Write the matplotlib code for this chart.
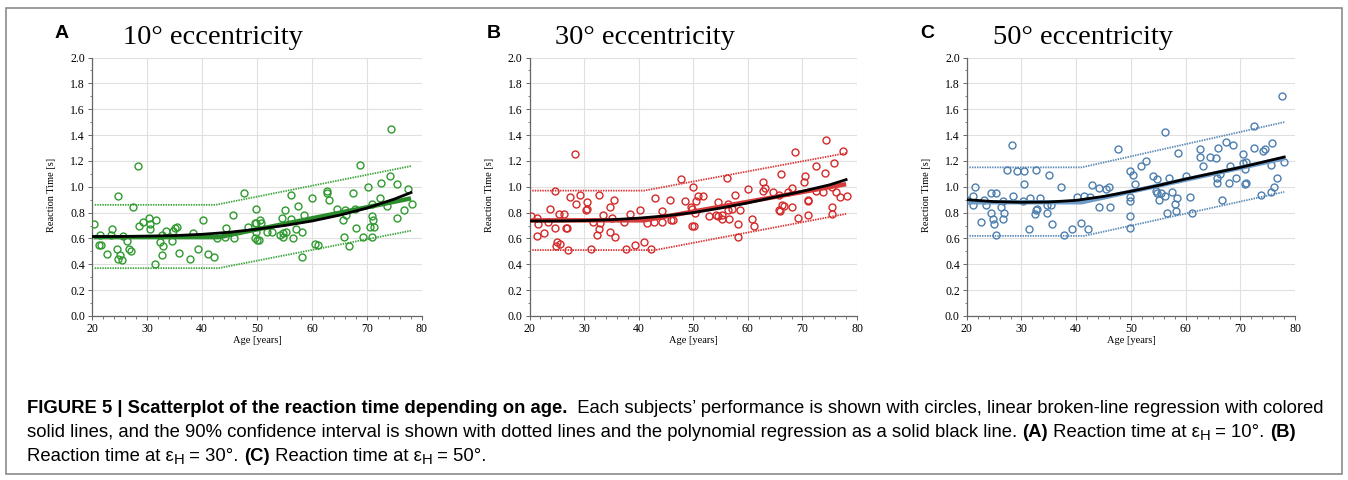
import numpy as np
import matplotlib
matplotlib.use('Agg')
import matplotlib.pyplot as plt
from matplotlib import font_manager
from matplotlib.patches import Rectangle
from matplotlib.ticker import MultipleLocator, FormatStrFormatter

# 数据
age_a = [20.3, 21.4, 21.3, 21.6, 22.7, 23.4, 23.7, 24.7, 24.6, 25.0, 24.8, 25.5, 25.6, 26.3, 26.8, 27.0,
         27.5, 28.3, 28.5, 29.2, 30.4, 30.5, 30.5, 31.6, 31.4, 32.4, 32.8, 32.9, 32.8, 33.4, 34.6, 34.7,
         35.0, 35.5, 35.8, 37.8, 38.3, 39.3, 40.1, 41.0, 42.2, 42.7, 44.2, 44.3, 45.6, 45.9, 47.6, 48.4,
         49.7, 49.7, 49.8, 49.8, 49.8, 50.0, 50.3, 50.5, 50.7, 51.8, 52.8, 54.1, 54.7, 54.7, 55.3, 54.5,
         55.1, 56.2, 56.2, 56.5, 57.0, 57.5, 58.1, 58.1, 58.5, 60.0, 60.6, 61.1, 62.7, 62.8, 63.1, 64.5,
         65.6, 65.8, 66.0, 66.2, 66.7, 67.5, 67.9, 68.0, 68.7, 69.2, 70.2, 70.5, 70.9, 70.9, 71.0, 70.9,
         71.2, 72.3, 72.5, 73.7, 74.2, 74.4, 75.5, 75.5, 76.7, 77.5, 78.1]
rt_a = [0.71, 0.63, 0.55, 0.55, 0.48, 0.63, 0.67, 0.93, 0.52, 0.47, 0.44, 0.43, 0.62, 0.58, 0.52, 0.50,
        0.84, 1.16, 0.70, 0.73, 0.76, 0.71, 0.67, 0.74, 0.40, 0.57, 0.47, 0.54, 0.63, 0.66, 0.58, 0.66,
        0.68, 0.69, 0.49, 0.44, 0.64, 0.52, 0.74, 0.48, 0.46, 0.60, 0.61, 0.68, 0.78, 0.60, 0.95, 0.69,
        0.72, 0.60, 0.83, 0.72, 0.65, 0.59, 0.59, 0.74, 0.72, 0.65, 0.65, 0.63, 0.64, 0.61, 0.65, 0.76,
        0.82, 0.94, 0.75, 0.60, 0.67, 0.85, 0.65, 0.46, 0.78, 0.91, 0.56, 0.55, 0.97, 0.95, 0.90, 0.83,
        0.74, 0.61, 0.82, 0.78, 0.54, 0.95, 0.83, 0.68, 1.17, 0.61, 1.00, 0.69, 0.87, 0.77, 0.74, 0.61,
        0.69, 0.91, 1.03, 0.85, 1.08, 1.45, 1.02, 0.76, 0.82, 0.98, 0.87]

age_b = [20.2, 21.3, 21.5, 21.3, 22.6, 23.7, 23.4, 24.7, 24.6, 25.0, 24.9, 25.5, 25.4, 26.3, 26.7, 26.9,
         27.0, 27.4, 28.3, 28.5, 29.2, 30.4, 30.5, 30.5, 31.3, 31.6, 32.7, 32.7, 32.4, 33.0, 33.4, 34.7,
         34.8, 35.1, 35.4, 35.7, 37.4, 37.7, 38.4, 39.3, 40.2, 41.0, 41.5, 42.2, 43.0, 42.8, 44.3, 44.3,
         45.7, 46.0, 46.3, 47.7, 48.5, 49.9, 49.7, 49.6, 49.8, 50.1, 50.5, 50.9, 51.8, 50.4, 52.8, 54.6,
         54.1, 54.6, 55.2, 55.3, 56.2, 56.3, 56.3, 57.1, 56.6, 57.6, 58.2, 58.2, 58.6, 60.1, 60.7, 61.2,
         62.7, 62.7, 63.2, 64.7, 65.7, 66.0, 65.8, 65.9, 66.3, 66.7, 67.4, 68.0, 68.0, 68.6, 69.2, 70.2,
         70.5, 71.0, 71.1, 71.0, 72.5, 72.4, 73.8, 74.2, 74.4, 75.5, 75.5, 75.8, 76.1, 76.8, 77.5, 78.1,
         75.5]
rt_b = [0.77, 0.76, 0.71, 0.62, 0.64, 0.83, 0.73, 0.97, 0.68, 0.57, 0.54, 0.56, 0.79, 0.79, 0.68, 0.68,
        0.51, 0.92, 1.25, 0.87, 0.94, 0.82, 0.83, 0.88, 0.52, 0.73, 0.94, 0.67, 0.63, 0.72, 0.78, 0.65,
        0.84, 0.76, 0.90, 0.61, 0.73, 0.52, 0.79, 0.55, 0.82, 0.57, 0.72, 0.52, 0.91, 0.73, 0.73, 0.81,
        0.90, 0.74, 0.74, 1.06, 0.89, 1.00, 0.70, 0.84, 0.83, 0.70, 0.89, 0.93, 0.93, 0.80, 0.77, 0.88,
        0.78, 0.77, 0.78, 0.75, 1.07, 0.87, 0.82, 0.83, 0.75, 0.94, 0.71, 0.61, 0.82, 0.98, 0.75, 0.70,
        1.04, 0.97, 0.99, 0.96, 0.94, 1.10, 0.82, 0.81, 0.86, 0.85, 0.96, 0.99, 0.84, 1.27, 0.76, 1.04,
        1.08, 0.90, 0.89, 0.78, 1.16, 0.97, 0.96, 1.11, 1.36, 0.84, 0.79, 1.18, 0.96, 0.92, 1.28, 0.93,
        1.00]

age_c = [20.0, 21.2, 21.5, 21.2, 22.6, 23.2, 23.5, 24.5, 25.4, 24.5, 24.8, 25.0, 25.4, 26.2, 26.6, 26.9,
         26.7, 27.4, 28.2, 28.4, 29.1, 30.4, 30.4, 30.2, 31.3, 31.5, 32.6, 32.4, 32.6, 32.9, 33.3, 34.6,
         34.6, 35.0, 35.4, 35.6, 37.2, 37.7, 39.2, 40.1, 40.9, 41.5, 42.1, 42.6, 42.9, 44.2, 44.2, 45.4,
         45.9, 46.2, 47.6, 49.8, 49.8, 49.9, 49.8, 49.9, 50.4, 50.8, 51.8, 52.8, 54.1, 54.7, 54.6, 54.8,
         55.4, 55.2, 56.2, 56.2, 56.6, 57.0, 57.5, 58.1, 58.2, 58.5, 58.6, 60.1, 60.7, 61.2, 62.6, 62.7,
         63.1, 64.5, 65.6, 65.9, 65.8, 65.7, 66.2, 66.6, 67.4, 68.0, 67.9, 68.6, 69.2, 70.4, 70.5, 71.0,
         70.9, 70.8, 71.0, 72.4, 72.4, 73.7, 74.1, 74.4, 75.5, 75.5, 75.8, 76.1, 76.7, 77.5, 78.0]
rt_c = [0.90, 0.93, 1.00, 0.86, 0.73, 0.90, 0.86, 0.95, 0.95, 0.80, 0.75, 0.71, 0.63, 0.84, 0.89, 0.80,
        0.75, 1.13, 1.32, 0.93, 1.12, 1.12, 1.02, 0.89, 0.67, 0.91, 1.13, 0.79, 0.82, 0.83, 0.91, 0.86,
        0.80, 1.09, 0.86, 0.71, 1.00, 0.63, 0.67, 0.92, 0.72, 0.93, 0.67, 0.92, 1.01, 0.99, 0.84, 0.98,
        1.00, 0.84, 1.29, 1.12, 0.92, 0.89, 0.77, 0.68, 1.09, 1.02, 1.16, 1.20, 1.08, 1.06, 0.97, 0.95,
        0.95, 0.90, 0.93, 1.42, 0.80, 1.07, 0.96, 0.87, 0.81, 0.91, 1.26, 1.08, 0.92, 0.80, 1.29, 1.23,
        1.16, 1.23, 1.22, 1.30, 1.07, 1.03, 1.10, 0.90, 1.35, 1.16, 1.03, 1.32, 1.07, 1.18, 1.25, 1.19,
        1.14, 1.02, 1.03, 1.30, 1.47, 0.94, 1.28, 1.29, 1.17, 0.96, 1.34, 1.00, 1.07, 1.70, 1.19]

# 多项式回归（黑线）读数
poly_age = [20, 25, 30, 35, 40, 45, 50, 55, 60, 65, 70, 75, 78]
poly_a = [0.615, 0.615, 0.618, 0.622, 0.632, 0.648, 0.672, 0.700, 0.735, 0.780, 0.835, 0.905, 0.955]
poly_b = [0.735, 0.735, 0.738, 0.745, 0.757, 0.775, 0.800, 0.835, 0.875, 0.920, 0.965, 1.015, 1.055]
poly_c = [0.900, 0.885, 0.880, 0.882, 0.895, 0.925, 0.965, 1.010, 1.060, 1.105, 1.150, 1.200, 1.230]

# 折线回归和90%置信区间
broken_age_a = [20.3, 43.0, 78.0]
broken_a = [0.61, 0.61, 0.91]
upper_age_a = [20.5, 42.5, 78.0]
upper_a = [0.86, 0.86, 1.16]
lower_age_a = [20.5, 43.0, 78.0]
lower_a = [0.37, 0.37, 0.66]

broken_age_b = [20.3, 41.0, 78.0]
broken_b = [0.74, 0.74, 1.02]
upper_age_b = [20.5, 41.0, 78.0]
upper_b = [0.97, 0.97, 1.26]
lower_age_b = [20.5, 43.0, 78.0]
lower_b = [0.51, 0.51, 0.79]

broken_age_c = [20.3, 41.0, 78.0]
broken_c = [0.88, 0.88, 1.22]
upper_age_c = [20.5, 41.0, 78.0]
upper_c = [1.15, 1.15, 1.50]
lower_age_c = [20.5, 41.5, 78.0]
lower_c = [0.62, 0.62, 0.96]

W, H = 1348, 480
fig = plt.figure(figsize=(W / 100, H / 100), dpi=100)

serif = ['Liberation Serif', 'DejaVu Serif']
sans = ['Liberation Sans', 'DejaVu Sans']

panels = [
    dict(letter='A', title='10° eccentricity', left=92, width=330, letter_x=62, title_x=123,
         age=age_a, rt=rt_a, poly=poly_a, broken=(broken_age_a, broken_a),
         upper=(upper_age_a, upper_a), lower=(lower_age_a, lower_a),
         mcol='#2f9a2f', lcol='#2a8c2a', ccol='#3aa63a'),
    dict(letter='B', title='30° eccentricity', left=529.5, width=327.5, letter_x=494, title_x=555,
         age=age_b, rt=rt_b, poly=poly_b, broken=(broken_age_b, broken_b),
         upper=(upper_age_b, upper_b), lower=(lower_age_b, lower_b),
         mcol='#d42a2a', lcol='#d63a3a', ccol='#dd3333'),
    dict(letter='C', title='50° eccentricity', left=966.7, width=328.5, letter_x=927, title_x=993,
         age=age_c, rt=rt_c, poly=poly_c, broken=(broken_age_c, broken_c),
         upper=(upper_age_c, upper_c), lower=(lower_age_c, lower_c),
         mcol='#4d7eae', lcol='#6e9cc9', ccol='#5a8ab8'),
]

top_px, bot_px = 57.5, 316
for p in panels:
    ax = fig.add_axes([p['left'] / W, 1 - bot_px / H, p['width'] / W, (bot_px - top_px) / H])
    ax.set_xlim(20, 80)
    ax.set_ylim(0, 2.0)
    ax.xaxis.set_major_locator(MultipleLocator(10))
    ax.xaxis.set_minor_locator(MultipleLocator(2))
    ax.yaxis.set_major_locator(MultipleLocator(0.2))
    ax.yaxis.set_minor_locator(MultipleLocator(0.1))
    ax.yaxis.set_major_formatter(FormatStrFormatter('%.1f'))
    ax.grid(True, which='major', color='#e0e0e0', lw=0.8)
    ax.set_axisbelow(True)
    for s in ['top', 'right']:
        ax.spines[s].set_visible(False)
    for s in ['left', 'bottom']:
        ax.spines[s].set_color('#666666')
        ax.spines[s].set_linewidth(0.9)
    ax.tick_params(which='major', direction='out', length=3, width=0.7, color='#666666',
                   labelsize=8.5, pad=2)
    ax.tick_params(which='minor', direction='out', length=1.8, width=0.6, color='#666666')
    for lab in ax.get_xticklabels() + ax.get_yticklabels():
        lab.set_family(serif)

    # 置信区间（点线）
    ax.plot(*p['upper'], color=p['ccol'], lw=1.3, ls=(0, (0.8, 0.6)), zorder=2)
    ax.plot(*p['lower'], color=p['ccol'], lw=1.3, ls=(0, (0.8, 0.6)), zorder=2)
    # 散点
    ax.plot(p['age'], p['rt'], 'o', mfc='none', mec=p['mcol'], ms=5, mew=1.0, zorder=3)
    # 折线回归和多项式回归
    ax.plot(*p['broken'], color=p['lcol'], lw=3.2, solid_capstyle='butt', zorder=4)
    ax.plot(poly_age, p['poly'], color='black', lw=2.0, zorder=5)

    ax.set_xlabel('Age [years]', family=serif, fontsize=7.5)
    ax.xaxis.set_label_coords(0.5, -0.078)
    ax.set_ylabel('Reaction Time [s]', family=serif, fontsize=7.5)
    ax.yaxis.set_label_coords(-0.108, 0.47)

    fig.text(p['letter_x'] / W, 1 - 33 / H, p['letter'], family=sans, fontweight='bold',
             fontsize=14, ha='center', va='center')
    fig.text(p['title_x'] / W, 1 - 37 / H, p['title'], family=serif, fontsize=20.5,
             ha='left', va='center')

# 外框
fig.patches.append(Rectangle((6 / W, 6 / H), 1336 / W, 466 / H, transform=fig.transFigure,
                             fill=False, edgecolor='#8a8a8a', lw=1.2))

# 图注
names = {f.name for f in font_manager.fontManager.ttflist}
cap_font = 'Liberation Sans Narrow' if 'Liberation Sans Narrow' in names else 'Liberation Sans'
renderer = fig.canvas.get_renderer()

line1 = [('FIGURE 5 | Scatterplot of the reaction time depending on age.', 'bold', 1, 0),
         ('  Each subjects\u2019 performance is shown with circles, linear broken-line regression with colored',
          'normal', 1, 0)]
line2 = [('solid lines, and the 90% confidence interval is shown with dotted lines and the polynomial '
          'regression as a solid black line. ', 'normal', 1, 0),
         ('(A)', 'bold', 1, 0), (' Reaction time at \u03b5', 'normal', 1, 0), ('H', 'normal', 0.8, -3),
         (' = 10\u00b0. ', 'normal', 1, 0), ('(B)', 'bold', 1, 0)]
line3 = [('Reaction time at \u03b5', 'normal', 1, 0), ('H', 'normal', 0.8, -3),
         (' = 30\u00b0. ', 'normal', 1, 0), ('(C)', 'bold', 1, 0),
         (' Reaction time at \u03b5', 'normal', 1, 0), ('H', 'normal', 0.8, -3),
         (' = 50\u00b0.', 'normal', 1, 0)]


def draw_line(pieces, x_px, y_px, size, visible=True):
    x = x_px
    for txt, weight, scale, dy in pieces:
        t = fig.text(x / W, 1 - (y_px - dy) / H, txt, family=[cap_font, 'DejaVu Sans'],
                     fontsize=size * scale, fontweight=weight, ha='left', va='baseline')
        x += t.get_window_extent(renderer).width
        if not visible:
            t.remove()
    return x - x_px


w10 = draw_line(line1, 27, 413, 10, visible=False)
cap_size = 10 * 1303 / w10
draw_line(line1, 27, 413, cap_size)
draw_line(line2, 27, 437, cap_size)
draw_line(line3, 27, 461, cap_size)

plt.savefig('out.png', dpi=100)
